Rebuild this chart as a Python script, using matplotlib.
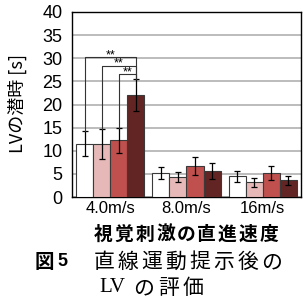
import matplotlib
matplotlib.use("Agg")
import matplotlib.pyplot as plt
import numpy as np

plt.rcParams['font.family'] = ['Liberation Sans', 'Noto Sans CJK JP']

# data
speeds = ['4.0m/s', '8.0m/s', '16m/s']
means = [
    [11.5, 5.2, 4.5],
    [11.5, 4.3, 3.2],
    [12.3, 6.7, 5.1],
    [22.0, 5.6, 3.6],
]
errs = [
    [2.7, 1.3, 1.2],
    [3.2, 1.0, 1.0],
    [2.7, 1.9, 1.5],
    [3.5, 1.7, 0.9],
]
colors = ['#FFFFFF', '#E6B9B8', '#C0504D', '#632523']
# significance brackets in 4.0m/s group: (bar i, bar j, height)
sig = [(0, 3, 30.3), (1, 3, 28.4), (2, 3, 26.6)]

W, H = 304, 302
fig = plt.figure(figsize=(W / 100, H / 100), dpi=100)
ax = fig.add_axes([72 / W, 1 - 197 / H, 229 / W, 185 / H])

x = np.arange(len(speeds))
bw = 0.223
for k in range(4):
    pos = x + (k - 1.5) * bw
    ax.bar(pos, means[k], bw, color=colors[k], edgecolor='#3a3a3a', linewidth=0.8, zorder=3)
    ax.errorbar(pos, means[k], yerr=errs[k], fmt='none', ecolor='black',
                elinewidth=0.9, capsize=2.5, capthick=0.9, zorder=4)

for i, j, h in sig:
    xi = x[0] + (i - 1.5) * bw
    xj = x[0] + (j - 1.5) * bw
    yi = means[i][0] + errs[i][0]
    yj = means[j][0] + errs[j][0]
    ax.plot([xi, xi, xj, xj], [yi, h, h, yj], color='#333333', lw=0.8, zorder=5)
    ax.text((xi + xj) / 2, h - 0.9, '**', ha='center', va='bottom', fontsize=9, zorder=6)

ax.set_xlim(-0.5, 2.5)
ax.set_ylim(0, 40)
ax.set_yticks(range(0, 41, 5))
ax.set_xticks(x)
ax.set_xticklabels(speeds, fontsize=12)
ax.tick_params(axis='y', length=0, labelsize=13, pad=7)
ax.tick_params(axis='x', length=0, pad=3)
ax.yaxis.grid(True, color='#b0b0b0', lw=1.2, zorder=0)
for s in ax.spines.values():
    s.set_color('black')
    s.set_linewidth(1.0)

fig.text(17 / W, 1 - 103 / H, 'LVの潜時 [s]', rotation=90, ha='center', va='center',
         fontsize=13, family=['Noto Sans CJK JP', 'Liberation Sans'])


def spaced(s, x0, x1, yc, **kw):
    # place characters evenly between x0 and x1 (pixel coords)
    n = len(s)
    step = (x1 - x0) / n
    for c, ch in enumerate(s):
        fig.text((x0 + step * (c + 0.5)) / W, 1 - yc / H, ch, ha='center', va='center',
                 family=['Noto Sans CJK JP', 'Liberation Sans'], **kw)


spaced('視覚刺激の直進速度', 93, 279, 234, fontsize=13.5, fontweight='bold')
fig.text(35 / W, 1 - 262 / H, '図', ha='left', va='center', fontsize=14,
         fontweight='bold', family=['Noto Sans CJK JP'])
fig.text(57 / W, 1 - 262 / H, '5', ha='left', va='center', fontsize=13,
         fontweight='bold', family=['Liberation Sans'])
spaced('直線運動提示後の', 92, 284, 262, fontsize=15)
fig.text(99 / W, 1 - 288 / H, 'LV', ha='left', va='center', fontsize=15,
         family=['Liberation Serif'])
spaced('の評価', 131, 206, 288, fontsize=15)

fig.savefig('out.png', dpi=100)
